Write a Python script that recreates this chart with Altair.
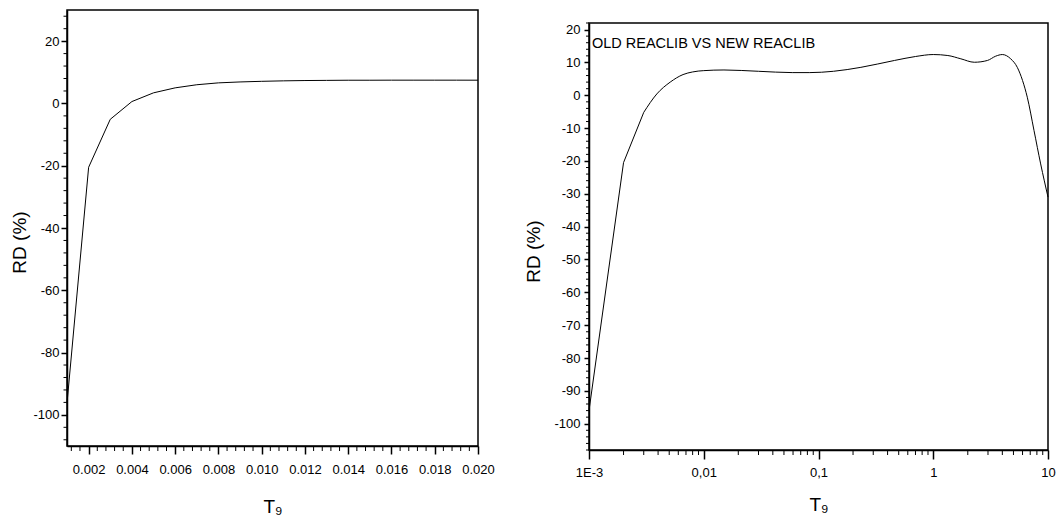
import altair as alt
import pandas as pd

# ---------------- data ----------------
# left panel (linear T9 axis)
t9_lin = [0.001, 0.002, 0.003, 0.004, 0.005, 0.006, 0.007, 0.008, 0.009, 0.010,
          0.011, 0.012, 0.013, 0.014, 0.015, 0.016, 0.017, 0.018, 0.019, 0.020]
rd_lin = [-96.3, -20.5, -5.1, 0.6, 3.4, 5.0, 6.0, 6.6, 6.9, 7.1,
          7.25, 7.35, 7.4, 7.45, 7.45, 7.47, 7.47, 7.47, 7.47, 7.46]

# right panel (log T9 axis), kinked start + smooth part
t9_log_a = [0.001, 0.002, 0.003]
rd_log_a = [-96.0, -20.5, -5.2]
t9_log_b = [0.003, 0.0039, 0.0051, 0.0066, 0.008, 0.01, 0.015, 0.03, 0.059, 0.084,
            0.135, 0.234, 0.46, 0.7, 1.0, 1.34, 1.74, 2.28, 2.97, 3.5,
            4.0, 4.73, 5.4, 6.0, 6.6, 7.55, 8.63, 10.0]
rd_log_b = [-5.2, 0.4, 4.0, 6.3, 7.1, 7.5, 7.7, 7.3, 6.9, 6.9,
            7.3, 8.5, 10.6, 11.8, 12.4, 12.1, 11.1, 10.05, 10.6, 11.9,
            12.4, 11.1, 8.5, 4.5, -0.6, -10.7, -20.9, -31.0]

# tick values / labels
lin_x_major = [0.002, 0.004, 0.006, 0.008, 0.010, 0.012, 0.014, 0.016, 0.018, 0.020]
lin_y_major = [-100, -80, -60, -40, -20, 0, 20]
lin_x_minor = [round(0.0004 * k, 4) for k in range(3, 51) if k % 5 != 0]
lin_y_minor = [v for v in range(-108, 29, 4) if v % 20 != 0]

log_x_major = [0.001, 0.01, 0.1, 1, 10]
log_x_labels = ["1E-3", "0,01", "0,1", "1", "10"]
log_x_minor = [m * d for d in [0.001, 0.01, 0.1, 1] for m in range(2, 10)]
log_y_major = [-100, -90, -80, -70, -60, -50, -40, -30, -20, -10, 0, 10, 20]
log_y_minor = [v for v in range(-108, 23, 2) if v % 10 != 0]

annot_text = ["OLD REACLIB VS NEW REACLIB"]
annot_t9 = [0.00106]
annot_rd = [15.5]

LABEL_FONT = "Liberation Sans, Arial, sans-serif"
TITLE_FONT = "Liberation Sans, Arial, sans-serif"

W1, H1 = 411, 436
W2, H2 = 459, 427

# ---------------- left panel ----------------
xs1 = alt.Scale(domain=[0.001, 0.020], nice=False, zero=False)
ys1 = alt.Scale(domain=[-110, 30], nice=False, zero=False)
xaxis1 = alt.Axis(values=lin_x_major, format=".3f", tickSize=8, labelOverlap=False,
                  labelFlush=False, labelPadding=9, title="T₉", titlePadding=21)
yaxis1 = alt.Axis(values=lin_y_major, labelExpr="'' + datum.value", labelFlush=False,
                  tickSize=6, labelPadding=2, title="RD (%)", titlePadding=3,
                  titleY=232)

df1 = pd.DataFrame({"T9": t9_lin, "RD": rd_lin})
line1 = alt.Chart(df1).mark_line(color="black", strokeWidth=1).encode(
    x=alt.X("T9:Q", scale=xs1, axis=xaxis1),
    y=alt.Y("RD:Q", scale=ys1, axis=yaxis1),
)
minx1 = alt.Chart(pd.DataFrame({"T9": lin_x_minor})).mark_rule(
    color="black", strokeWidth=1).encode(
    x=alt.X("T9:Q", scale=xs1, axis=xaxis1),
    y=alt.value(H1), y2=alt.value(H1 + 5))
miny1 = alt.Chart(pd.DataFrame({"RD": lin_y_minor})).mark_rule(
    color="black", strokeWidth=1).encode(
    y=alt.Y("RD:Q", scale=ys1, axis=yaxis1),
    x=alt.value(-3.5), x2=alt.value(0))
left = alt.layer(line1, minx1, miny1).properties(width=W1, height=H1)

# ---------------- right panel ----------------
xs2 = alt.Scale(type="log", domain=[0.001, 10], nice=False)
ys2 = alt.Scale(domain=[-108, 22], nice=False, zero=False)

lab_expr = " : ".join(
    [f"datum.value == {v} ? '{l}'" for v, l in zip(log_x_major[:-1], log_x_labels[:-1])]
    + [f"'{log_x_labels[-1]}'"])

xaxis2 = alt.Axis(values=log_x_major, labelExpr=lab_expr, tickSize=9, labelOverlap=False,
                  labelFlush=False, labelPadding=7, title="T₉", titlePadding=16)
yaxis2 = alt.Axis(values=log_y_major, labelExpr="'' + datum.value", labelFlush=False,
                  tickSize=5, labelPadding=4, title="RD (%)", titlePadding=10,
                  titleY=228)

df2a = pd.DataFrame({"T9": t9_log_a, "RD": rd_log_a})
df2b = pd.DataFrame({"T9": t9_log_b, "RD": rd_log_b})
line2a = alt.Chart(df2a).mark_line(color="black", strokeWidth=1).encode(
    x=alt.X("T9:Q", scale=xs2, axis=xaxis2),
    y=alt.Y("RD:Q", scale=ys2, axis=yaxis2))
line2b = alt.Chart(df2b).mark_line(color="black", strokeWidth=1,
                                   interpolate="monotone").encode(
    x=alt.X("T9:Q", scale=xs2, axis=xaxis2),
    y=alt.Y("RD:Q", scale=ys2, axis=yaxis2))
minx2 = alt.Chart(pd.DataFrame({"T9": log_x_minor})).mark_rule(
    color="black", strokeWidth=1).encode(
    x=alt.X("T9:Q", scale=xs2, axis=xaxis2),
    y=alt.value(H2), y2=alt.value(H2 + 5))
miny2 = alt.Chart(pd.DataFrame({"RD": log_y_minor})).mark_rule(
    color="black", strokeWidth=1).encode(
    y=alt.Y("RD:Q", scale=ys2, axis=yaxis2),
    x=alt.value(-3), x2=alt.value(0))
annot = alt.Chart(pd.DataFrame({"T9": annot_t9, "RD": annot_rd, "txt": annot_text})).mark_text(
    align="left", baseline="middle", font=LABEL_FONT, fontSize=14.5, color="black").encode(
    x=alt.X("T9:Q", scale=xs2, axis=xaxis2),
    y=alt.Y("RD:Q", scale=ys2, axis=yaxis2),
    text="txt:N")
right = alt.layer(line2a, line2b, minx2, miny2, annot).properties(width=W2, height=H2)

spacer = alt.Chart(pd.DataFrame({"v": [0]})).mark_point(opacity=0, size=1).encode(
    x=alt.value(W2 / 2), y=alt.value(0.5)
).properties(width=W2, height=1, view=alt.ViewBackground(strokeOpacity=0))

right_col = alt.vconcat(spacer, right, spacing=10)

chart = alt.hconcat(left, right_col, spacing=28).properties(
    padding={"left": 10, "top": 9, "right": 0, "bottom": 0},
    background="white",
).configure_view(stroke="black", strokeWidth=1.5).configure_axis(
    domainColor="black", domainWidth=1.5, tickColor="black", tickWidth=1.5,
    labelFont=LABEL_FONT, labelFontSize=13, labelColor="black",
    titleFont=TITLE_FONT, titleFontSize=19, titleFontWeight="normal",
    titleColor="black", grid=False,
).configure_axisX(titleFontSize=19)

chart.save("out.html", embed_options={"renderer": "svg", "actions": False})
